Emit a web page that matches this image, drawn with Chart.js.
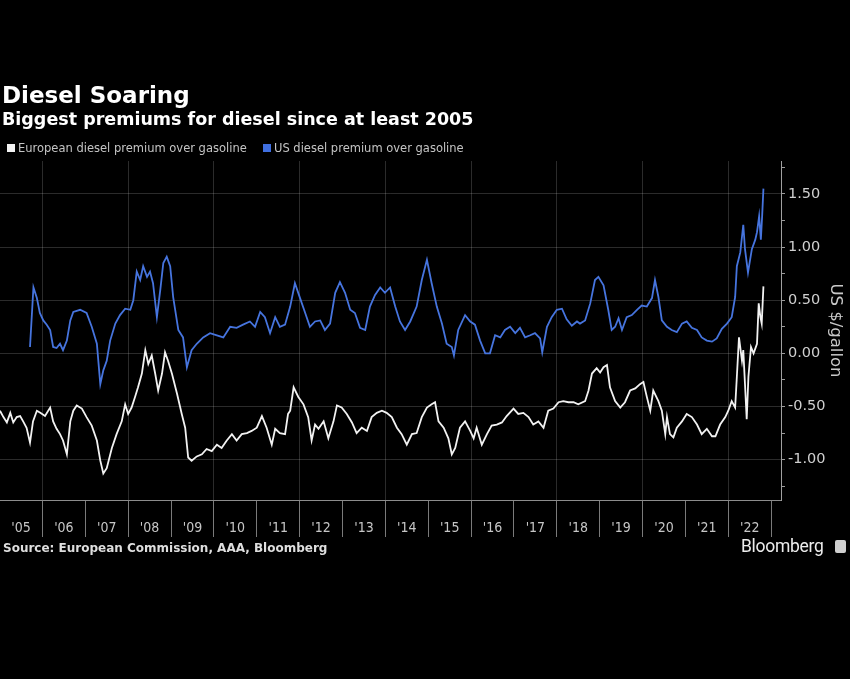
<!DOCTYPE html>
<html>
<head>
<meta charset="utf-8">
<script src="https://cdn.jsdelivr.net/npm/chart.js@4"></script>
<style>
  html, body { margin: 0; padding: 0; background: #000; }
  body { width: 850px; height: 679px; position: relative; overflow: hidden; font-family: "DejaVu Sans", sans-serif; }
  #c { position: absolute; left: 0; top: 0; }
  .t { position: absolute; white-space: nowrap; line-height: 1; }
  #title { left: 2px; top: 84px; font-size: 23px; font-weight: 700; color: #fff; }
  #subtitle { left: 2px; top: 111px; font-size: 17.5px; font-weight: 700; color: #fff; }
  .leg { top: 143px; font-size: 11.5px; color: #c4c4c4; }
  .sw { display: inline-block; width: 8px; height: 8px; margin-right: 3px; vertical-align: 0px; }
  #source { left: 3px; top: 542px; font-size: 12px; font-weight: 700; color: #dedede; }
  #bbg { left: 741px; top: 538px; font-size: 17.5px; color: #ececec; font-family: Roboto, sans-serif; letter-spacing: -0.3px; }
  #icon { position: absolute; left: 835px; top: 540px; width: 11px; height: 13px; background: #cfcfcf; border-radius: 2px; }
</style>
</head>
<body>
<canvas id="c" width="850" height="679"></canvas>
<div class="t" id="title">Diesel Soaring</div>
<div class="t" id="subtitle">Biggest premiums for diesel since at least 2005</div>
<div class="t leg" style="left:7px"><span class="sw" style="background:#f2f2f2"></span>European diesel premium over gasoline</div>
<div class="t leg" style="left:263px"><span class="sw" style="background:#3f6fe0"></span>US diesel premium over gasoline</div>
<div class="t" id="source">Source: European Commission, AAA, Bloomberg</div>
<div class="t" id="bbg">Bloomberg</div>
<div id="icon"></div>
<script>
// ---- DATA ----
const yearLabels = ["'05","'06","'07","'08","'09","'10","'11","'12","'13","'14","'15","'16","'17","'18","'19","'20","'21","'22"];
const yTickValues = [-1.25,-1.0,-0.75,-0.5,-0.25,0,0.25,0.5,0.75,1.0,1.25,1.5,1.75];

const euroYears = [
  2005.01,2005.09,2005.17,2005.25,2005.32,2005.40,2005.48,2005.55,2005.63,2005.71,2005.78,2005.87,2005.95,
  2006.06,2006.18,2006.25,2006.33,2006.41,2006.48,2006.57,2006.65,2006.72,2006.80,2006.92,
  2007.03,2007.15,2007.27,2007.35,2007.42,2007.50,2007.62,2007.73,2007.85,2007.93,
  2008.00,2008.08,2008.16,2008.23,2008.32,2008.40,2008.47,2008.55,2008.63,2008.70,2008.79,2008.86,2008.93,
  2009.02,2009.14,2009.25,2009.33,2009.40,2009.48,2009.60,2009.72,2009.83,2009.95,
  2010.07,2010.18,2010.30,2010.42,2010.53,2010.65,2010.77,2010.88,
  2011.00,2011.12,2011.23,2011.35,2011.43,2011.54,2011.66,2011.73,2011.78,2011.86,2011.97,
  2012.09,2012.20,2012.28,2012.36,2012.44,2012.56,2012.67,2012.79,2012.87,2012.98,
  2013.10,2013.22,2013.33,2013.45,2013.57,2013.68,2013.80,2013.92,
  2014.03,2014.15,2014.27,2014.38,2014.50,2014.62,2014.73,2014.85,2014.97,
  2015.08,2015.16,2015.24,2015.36,2015.47,2015.55,2015.63,2015.74,2015.86,2015.98,
  2016.06,2016.13,2016.25,2016.37,2016.48,2016.60,2016.72,2016.83,2016.99,
  2017.10,2017.22,2017.34,2017.45,2017.57,2017.69,2017.80,2017.92,
  2018.04,2018.15,2018.27,2018.39,2018.50,2018.66,2018.74,2018.82,2018.93,
  2019.01,2019.09,2019.17,2019.24,2019.36,2019.48,2019.59,2019.71,2019.83,2019.94,
  2020.02,2020.10,2020.18,2020.25,2020.37,2020.45,2020.53,2020.57,2020.64,2020.72,2020.80,2020.92,
  2021.03,2021.15,2021.27,2021.38,2021.50,2021.62,2021.70,2021.81,2021.93,
  2022.00,2022.08,2022.16,2022.20,2022.25,2022.32,2022.35,2022.39,2022.43,2022.47,2022.53,2022.59,2022.67,2022.71,2022.75,2022.78,2022.82
];
const euroValues = [
  -0.54,-0.60,-0.65,-0.56,-0.65,-0.60,-0.59,-0.64,-0.70,-0.84,-0.64,-0.54,-0.56,
  -0.59,-0.51,-0.64,-0.71,-0.76,-0.82,-0.95,-0.64,-0.54,-0.49,-0.52,
  -0.60,-0.68,-0.82,-1.01,-1.13,-1.08,-0.89,-0.76,-0.64,-0.48,
  -0.57,-0.51,-0.41,-0.32,-0.19,0.03,-0.10,-0.02,-0.19,-0.35,-0.19,0.01,-0.07,
  -0.19,-0.38,-0.57,-0.70,-0.98,-1.01,-0.97,-0.95,-0.90,-0.92,
  -0.86,-0.89,-0.82,-0.76,-0.82,-0.76,-0.75,-0.73,
  -0.70,-0.59,-0.70,-0.86,-0.71,-0.75,-0.76,-0.57,-0.54,-0.32,-0.41,
  -0.48,-0.60,-0.82,-0.67,-0.71,-0.64,-0.80,-0.64,-0.49,-0.51,
  -0.57,-0.65,-0.75,-0.70,-0.73,-0.60,-0.56,-0.54,
  -0.56,-0.60,-0.70,-0.76,-0.86,-0.76,-0.75,-0.60,-0.51,
  -0.48,-0.46,-0.64,-0.70,-0.80,-0.95,-0.89,-0.70,-0.64,-0.73,
  -0.80,-0.70,-0.86,-0.76,-0.68,-0.67,-0.65,-0.59,-0.52,
  -0.57,-0.56,-0.60,-0.67,-0.64,-0.70,-0.54,-0.52,
  -0.46,-0.45,-0.46,-0.46,-0.48,-0.45,-0.35,-0.19,-0.14,
  -0.18,-0.13,-0.11,-0.32,-0.45,-0.51,-0.46,-0.35,-0.33,-0.29,
  -0.27,-0.41,-0.54,-0.35,-0.45,-0.54,-0.76,-0.60,-0.76,-0.79,-0.70,-0.64,
  -0.57,-0.60,-0.67,-0.76,-0.71,-0.78,-0.78,-0.67,-0.60,
  -0.54,-0.45,-0.51,-0.22,0.15,-0.07,0.03,-0.29,-0.62,-0.22,0.06,0.00,0.09,0.47,0.34,0.28,0.63
];

const usYears = [
  2005.71,2005.79,2005.87,2005.94,
  2006.02,2006.10,2006.18,2006.25,2006.33,2006.41,2006.48,2006.57,2006.65,2006.72,2006.88,
  2007.03,2007.15,2007.27,2007.35,2007.42,2007.50,2007.58,2007.70,2007.81,2007.93,
  2008.05,2008.12,2008.20,2008.28,2008.35,2008.44,2008.51,2008.58,2008.67,2008.75,2008.82,2008.90,2008.98,
  2009.05,2009.17,2009.28,2009.37,2009.48,2009.60,2009.75,2009.91,
  2010.07,2010.22,2010.38,2010.53,2010.68,2010.84,2010.96,
  2011.08,2011.19,2011.31,2011.43,2011.54,2011.66,2011.78,2011.89,
  2012.01,2012.13,2012.24,2012.36,2012.48,2012.59,2012.71,2012.83,2012.94,
  2013.06,2013.18,2013.29,2013.41,2013.53,2013.64,2013.76,2013.88,2013.99,
  2014.11,2014.23,2014.34,2014.46,2014.58,2014.73,2014.85,2014.97,
  2015.08,2015.20,2015.32,2015.43,2015.55,2015.60,2015.70,2015.86,2015.98,
  2016.09,2016.21,2016.33,2016.44,2016.56,2016.68,2016.79,2016.91,
  2017.03,2017.14,2017.26,2017.38,2017.49,2017.61,2017.66,2017.77,2017.88,
  2018.00,2018.12,2018.23,2018.35,2018.47,2018.54,2018.66,2018.78,2018.89,2018.97,
  2019.09,2019.20,2019.28,2019.36,2019.44,2019.52,2019.63,2019.75,2019.87,2019.98,
  2020.10,2020.22,2020.29,2020.37,2020.45,2020.57,2020.68,2020.80,2020.92,
  2021.03,2021.15,2021.27,2021.38,2021.50,2021.62,2021.73,2021.85,2021.97,
  2022.08,2022.16,2022.20,2022.28,2022.35,2022.39,2022.46,2022.55,2022.63,2022.67,2022.72,2022.76,2022.79,2022.82
];
const usValues = [
  0.06,0.62,0.52,0.38,
  0.31,0.27,0.22,0.06,0.05,0.09,0.03,0.12,0.31,0.39,0.41,
  0.38,0.25,0.09,-0.29,-0.16,-0.07,0.12,0.28,0.36,0.42,
  0.41,0.50,0.77,0.69,0.82,0.72,0.77,0.66,0.34,0.60,0.85,0.91,0.82,
  0.53,0.22,0.15,-0.13,0.03,0.09,0.15,0.19,
  0.17,0.15,0.25,0.24,0.27,0.30,0.25,
  0.39,0.34,0.19,0.34,0.25,0.27,0.44,0.66,
  0.52,0.38,0.25,0.30,0.31,0.22,0.28,0.57,0.67,
  0.57,0.41,0.38,0.24,0.22,0.44,0.55,0.62,0.57,
  0.62,0.44,0.30,0.22,0.30,0.44,0.69,0.88,
  0.66,0.44,0.28,0.09,0.06,-0.02,0.22,0.36,0.30,
  0.27,0.12,0.00,0.00,0.17,0.15,0.22,0.25,
  0.19,0.24,0.15,0.17,0.19,0.14,0.01,0.25,0.34,
  0.41,0.42,0.32,0.26,0.30,0.28,0.31,0.47,0.69,0.72,
  0.64,0.41,0.22,0.25,0.33,0.22,0.34,0.36,0.41,0.45,
  0.44,0.52,0.69,0.53,0.31,0.25,0.22,0.20,0.28,
  0.30,0.24,0.22,0.15,0.12,0.11,0.14,0.23,0.28,
  0.34,0.53,0.82,0.95,1.21,0.98,0.76,0.98,1.07,1.14,1.29,1.07,1.29,1.55
];

// ---- CHART ----
const gridColor = 'rgba(255,255,255,0.17)';
const firstYear = 2005;
const xTicks = [];
for (let i = 0; i < yearLabels.length; i++) {
  const yr = firstYear + i;
  if (i > 0) xTicks.push({ value: yr });
  xTicks.push({ value: yr + 0.5 });
}
xTicks.push({ value: firstYear + yearLabels.length });

const isInt = v => Math.abs(v - Math.round(v)) < 1e-6;
const isHalfStep = v => Math.abs(v * 2 - Math.round(v * 2)) < 1e-6;

new Chart(document.getElementById('c'), {
  type: 'line',
  data: {
    datasets: [
      { label: 'European diesel premium over gasoline',
        data: euroYears.map((x, i) => ({ x, y: euroValues[i] })),
        borderColor: '#f2f2f2', borderWidth: 1.8 },
      { label: 'US diesel premium over gasoline',
        data: usYears.map((x, i) => ({ x, y: usValues[i] })),
        borderColor: '#4674de', borderWidth: 1.8 }
    ]
  },
  options: {
    responsive: false,
    animation: false,
    layout: { padding: { top: 161, bottom: 142, left: 0, right: 0 } },
    elements: { point: { radius: 0 }, line: { tension: 0 } },
    plugins: { legend: { display: false }, tooltip: { enabled: false } },
    scales: {
      x: {
        type: 'linear', position: 'bottom', min: 2005.01, max: 2023.23,
        afterBuildTicks: s => { s.ticks = xTicks.map(t => ({ value: t.value })); },
        afterFit: s => { s.height = 37; },
        grid: {
          lineWidth: 1,
          color: ctx => (ctx.tick && isInt(ctx.tick.value) && Math.round(ctx.tick.value) % 2 === 0) ? gridColor : 'rgba(0,0,0,0)',
          tickColor: ctx => (ctx.tick && isInt(ctx.tick.value)) ? '#7a7a7a' : 'rgba(0,0,0,0)',
          tickLength: 37, tickWidth: 1, tickBorderDash: []
        },
        border: { display: true, color: '#8c8c8c', width: 1 },
        ticks: {
          autoSkip: false, maxRotation: 0, minRotation: 0, padding: -17,
          color: '#c6c6c6', font: { family: 'DejaVu Sans Condensed', size: 14 },
          callback: v => isInt(v) ? '' : yearLabels[Math.floor(v) - firstYear]
        }
      },
      y: {
        type: 'linear', position: 'right', min: -1.38, max: 1.81,
        afterBuildTicks: s => { s.ticks = yTickValues.map(v => ({ value: v })); },
        afterFit: s => { s.width = 69; },
        grid: {
          lineWidth: 1,
          color: ctx => (ctx.tick && isHalfStep(ctx.tick.value)) ? gridColor : 'rgba(0,0,0,0)',
          tickColor: '#9a9a9a', tickLength: 4, tickWidth: 1, tickBorderDash: []
        },
        border: { display: true, color: '#a0a0a0', width: 1 },
        ticks: {
          padding: 3, color: '#cfcfcf', font: { family: 'DejaVu Sans', size: 14.5 },
          callback: v => isHalfStep(v) ? v.toFixed(2) : ''
        },
        title: {
          display: true, text: 'US $/gallon', color: '#c8c8c8',
          font: { family: 'DejaVu Sans', size: 16.5 }, padding: { top: 5, bottom: 0 }
        }
      }
    }
  }
});
</script>
</body>
</html>
